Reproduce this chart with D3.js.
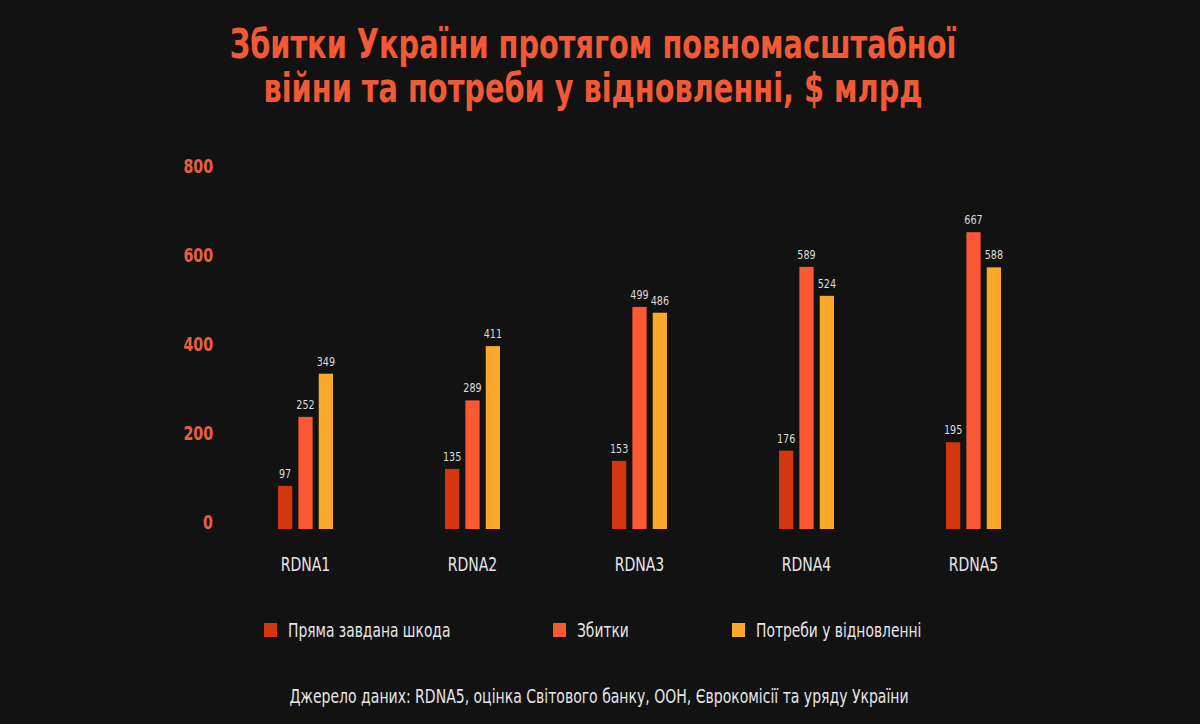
<!DOCTYPE html>
<html>
<head>
<meta charset="utf-8">
<script src="https://cdn.jsdelivr.net/npm/d3@7"></script>
<style>
  html, body { margin: 0; padding: 0; background: #121212; }
  svg { display: block; }
  text { font-family: "Liberation Sans Narrow", "DejaVu Sans Condensed", "Roboto Condensed", Roboto, sans-serif; }
</style>
</head>
<body>
<svg id="chart" width="1200" height="724"></svg>
<script>
// data
var rounds = ["RDNA1", "RDNA2", "RDNA3", "RDNA4", "RDNA5"];
var direct = [97, 135, 153, 176, 195];
var losses = [252, 289, 499, 589, 667];
var needs = [349, 411, 486, 524, 588];
var yTicks = [0, 200, 400, 600, 800];

var seriesNames = ["Пряма завдана шкода", "Збитки", "Потреби у відновленні"];
var seriesColors = ["#d4360f", "#fb5833", "#fca82c"];

var titleLines = ["Збитки України протягом повномасштабної", "війни та потреби у відновленні, $ млрд"];
var sourceText = "Джерело даних: RDNA5, оцінка Світового банку, ООН, Єврокомісії та уряду України";

var svg = d3.select("#chart");
var W = 1200, H = 724;

// the original face is much narrower than what we have, so squeeze text
function squeeze(sel, k){
  sel.each(function(){
    var w = this.getComputedTextLength();
    d3.select(this).attr("textLength", w * k).attr("lengthAdjust", "spacingAndGlyphs");
  });
}

svg.append("rect").attr("width", W).attr("height", H).attr("fill", "#121212");

var keys = ["direct", "losses", "needs"];
var table = rounds.map(function(r, i){
  return { round: r, direct: direct[i], losses: losses[i], needs: needs[i] };
});

var x0 = d3.scaleBand().domain(rounds).range([222, 1057]);
var x1 = d3.scaleBand().domain(keys).range([0, 55]).paddingInner(0.3);
var y = d3.scaleLinear().domain([0, 800]).range([529, 173]);
var color = d3.scaleOrdinal().domain(keys).range(seriesColors);

// title
var title = svg.append("g").selectAll("text")
  .data(titleLines)
  .enter().append("text")
  .attr("x", 593)
  .attr("y", function(d, i){ return 58 + i * 44; })
  .attr("text-anchor", "middle")
  .attr("fill", "#f25a36")
  .attr("font-weight", "bold")
  .attr("font-size", 40)
  .text(function(d){ return d; });
squeeze(title, 0.80);

// y tick labels (no axis line in the original)
var yAxis = d3.axisLeft(y).tickValues(yTicks).tickSize(0).tickPadding(0);
var gy = svg.append("g").attr("transform", "translate(213,-7)").call(yAxis);
gy.select(".domain").remove();
gy.selectAll("text")
  .attr("fill", "#e8603f")
  .attr("font-size", 19)
  .attr("font-weight", "bold")
  .style("font-family", null);
squeeze(gy.selectAll("text"), 0.83);

// bars
var groups = svg.append("g").selectAll("g")
  .data(table)
  .enter().append("g")
  .attr("transform", function(d){ return "translate(" + (x0(d.round) + x0.bandwidth() / 2 - 27.5) + ",0)"; });

var cells = groups.selectAll("g")
  .data(function(d){ return keys.map(function(k){ return { key: k, value: d[k] }; }); })
  .enter().append("g");

cells.append("rect")
  .attr("x", function(d){ return x1(d.key); })
  .attr("y", function(d){ return y(d.value); })
  .attr("width", x1.bandwidth())
  .attr("height", function(d){ return y(0) - y(d.value); })
  .attr("fill", function(d){ return color(d.key); });

var vals = cells.append("text")
  .attr("x", function(d){ return x1(d.key) + x1.bandwidth() / 2; })
  .attr("y", function(d){ return y(d.value) - 8; })
  .attr("text-anchor", "middle")
  .attr("fill", "#dcdcdc")
  .attr("font-size", 13)
  .text(function(d){ return d.value; });
squeeze(vals, 0.82);

// category labels
var xAxis = d3.axisBottom(x0).tickSize(0).tickPadding(0);
var gx = svg.append("g").attr("transform", "translate(0,556)").call(xAxis);
gx.select(".domain").remove();
gx.selectAll("text")
  .attr("fill", "#e6e6e6")
  .attr("font-size", 20)
  .attr("dy", "0.75em")
  .style("font-family", null);
squeeze(gx.selectAll("text"), 0.78);

// legend
var legendX = [264, 553, 732];
var legend = svg.append("g").selectAll("g")
  .data(seriesNames)
  .enter().append("g")
  .attr("transform", function(d, i){ return "translate(" + legendX[i] + ",623)"; });

legend.append("rect")
  .attr("width", 13).attr("height", 14)
  .attr("fill", function(d, i){ return seriesColors[i]; });

var legText = legend.append("text")
  .attr("x", 24).attr("y", 14)
  .attr("fill", "#e6e6e6")
  .attr("font-size", 19)
  .text(function(d){ return d; });
squeeze(legText, 0.81);

// source
var src = svg.append("text")
  .attr("x", 599).attr("y", 703)
  .attr("text-anchor", "middle")
  .attr("fill", "#e6e6e6")
  .attr("font-size", 19)
  .text(sourceText);
squeeze(src, 0.82);
</script>
</body>
</html>
